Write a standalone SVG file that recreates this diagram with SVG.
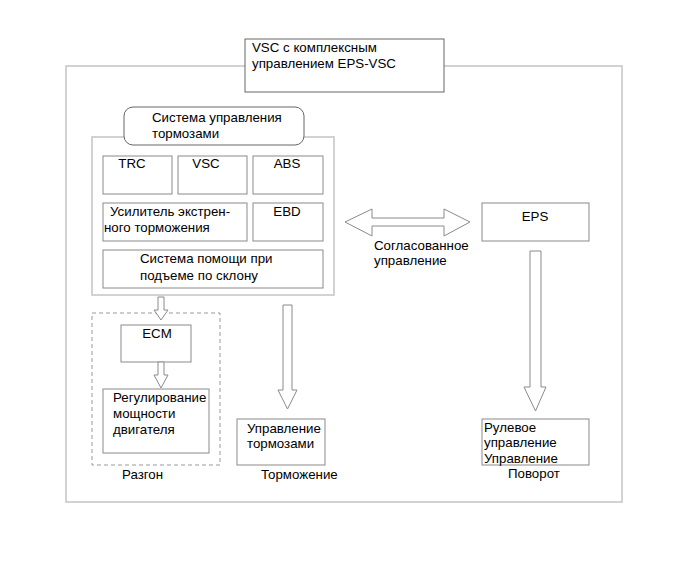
<svg xmlns="http://www.w3.org/2000/svg" width="690" height="562" viewBox="0 0 690 562">
<style>
text{font-family:"Liberation Sans",Arial,sans-serif;font-size:13.3px;fill:#000}
.box{fill:#fff;stroke:#8a8a8a;stroke-width:1}
.frame{fill:none;stroke:#c4c4c4;stroke-width:1.5}
.arrow{fill:#fff;stroke:#8a8a8a;stroke-width:1}
.mid{text-anchor:middle}
</style>
<rect width="690" height="562" fill="#fff"/>
<g id="outer-frame"><rect class="frame" x="66" y="66" width="556" height="436"/></g>
<g id="title"><rect x="245" y="39" width="199" height="53" fill="#fff" stroke="#666" stroke-width="1"/>
<text x="252" y="52">VSC с комплексным</text><text x="252" y="68">управлением EPS-VSC</text></g>
<g id="brake-system"><rect class="frame" x="92" y="137" width="242" height="158"/>
<rect x="124" y="107" width="180" height="38" rx="9" fill="#fff" stroke="#666"/>
<text x="152" y="122">Система управления</text><text x="152" y="138">тормозами</text></g>
<g id="trc"><rect class="box" x="103" y="156" width="69" height="38"/><text x="132" y="168" class="mid">TRC</text></g>
<g id="vsc"><rect class="box" x="178" y="156" width="69" height="38"/><text x="206" y="168" class="mid">VSC</text></g>
<g id="abs"><rect class="box" x="253" y="156" width="70" height="38"/><text x="287" y="168" class="mid">ABS</text></g>
<g id="brake-assist"><rect class="box" x="103" y="203" width="144" height="38"/><text x="110" y="216">Усилитель экстрен-</text><text x="104" y="232">ного торможения</text></g>
<g id="ebd"><rect class="box" x="253" y="203" width="70" height="38"/><text x="287" y="216" class="mid">EBD</text></g>
<g id="hill-assist"><rect class="box" x="103" y="250" width="220" height="38"/><text x="140" y="263">Система помощи при</text><text x="140" y="280">подъеме по склону</text></g>
<g id="acceleration"><rect x="92" y="313" width="128" height="152" fill="none" stroke="#999" stroke-dasharray="4,3"/>
<text x="122" y="479">Разгон</text></g>
<g id="ecm"><rect class="box" x="121" y="325" width="70" height="37"/><text x="157" y="338" class="mid">ECM</text></g>
<g id="engine-power"><rect class="box" x="103" y="389" width="106" height="64"/><text x="113" y="402">Регулирование</text><text x="113" y="418">мощности</text><text x="113" y="434">двигателя</text></g>
<g id="brake-control"><rect class="box" x="237" y="419" width="88" height="46"/><text x="247" y="433">Управление</text><text x="247" y="448">тормозами</text>
<text x="261" y="479">Торможение</text></g>
<g id="eps"><rect class="box" x="482" y="203" width="107" height="38"/><text x="535" y="221" class="mid">EPS</text></g>
<g id="steering"><rect class="box" x="482" y="419" width="107" height="46"/><text x="484" y="432">Рулевое</text><text x="484" y="447">управление</text><text x="484" y="463">Управление</text>
<text x="508" y="478">Поворот</text></g>
<g id="connectors">
<polygon class="arrow" points="158,297 164,297 164,310 168,310 161,320 154,310 158,310"/>
<polygon class="arrow" points="158,362 164,362 164,375 168,375 161,388 154,375 158,375"/>
<polygon class="arrow" points="283,305 292,305 292,390 297,390 287.5,409 278,390 283,390"/>
<polygon class="arrow" points="530,251 541,251 541,387 546,387 535.5,411 524,387 530,387"/>
<polygon class="arrow" points="345,222 372,209 372,218 444,218 444,209 470,222 444,236 444,226 372,226 372,236"/>
<text x="374" y="250">Согласованное</text><text x="374" y="265">управление</text>
</g>
</svg>
